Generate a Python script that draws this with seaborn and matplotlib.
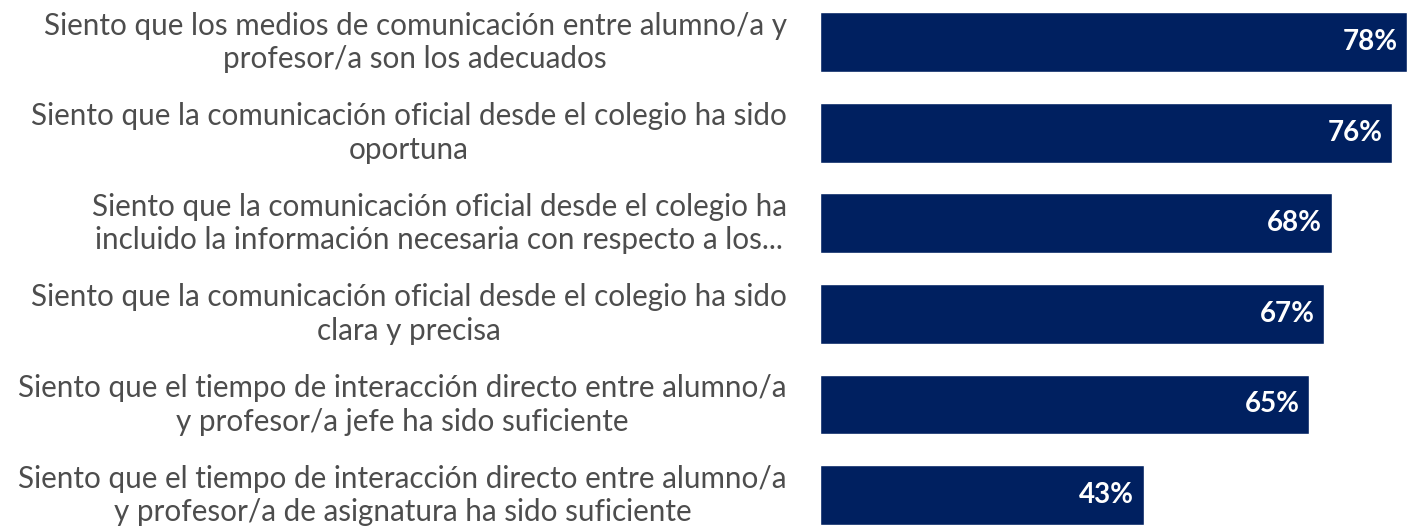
import numpy as np
import matplotlib.pyplot as plt
import matplotlib.transforms as mtransforms
import seaborn as sns
import pandas as pd

# Survey data
labels = [
    "Siento que los medios de comunicación entre alumno/a y\nprofesor/a son los adecuados",
    "Siento que la comunicación oficial desde el colegio ha sido\noportuna",
    "Siento que la comunicación oficial desde el colegio ha\nincluido la información necesaria con respecto a los...",
    "Siento que la comunicación oficial desde el colegio ha sido\nclara y precisa",
    "Siento que el tiempo de interacción directo entre alumno/a\ny profesor/a jefe ha sido suficiente",
    "Siento que el tiempo de interacción directo entre alumno/a\ny profesor/a de asignatura ha sido suficiente",
]
values = [78, 76, 68, 67, 65, 43]

df = pd.DataFrame({"label": labels, "value": values})

sns.set_style("white")
plt.rcParams['font.family'] = ['Lato', 'DejaVu Sans']

fig = plt.figure(figsize=(14.11, 5.27), dpi=100)
ax = fig.add_axes([820 / 1411, 0, 591 / 1411, 1])

sns.barplot(data=df, x="value", y="label", color="#002060", saturation=1,
            width=0.66, orient="h", ax=ax)

ax.set_xlim(0, 78.5)
ax.set_ylim(5.353, -0.4636)
ax.set_xlabel("")
ax.set_ylabel("")
ax.set_xticks([])
sns.despine(ax=ax, left=True, bottom=True)

ax.tick_params(axis="y", length=0, pad=24)
# nudge labels up a little so the bottom one fits
shift = mtransforms.ScaledTranslation(0, 5 / 100, fig.dpi_scale_trans)
for t in ax.get_yticklabels():
    t.set_fontsize(21.3)
    t.set_color("#4d4d4d")
    t.set_multialignment("center")
    t.set_linespacing(1.25)
    t.set_transform(t.get_transform() + shift)

# Value labels inside bar ends
for i, v in enumerate(values):
    ax.annotate(f"{v}%", xy=(v, i), xytext=(-7, 0), textcoords="offset points",
                ha="right", va="center", color="white", fontsize=20,
                fontweight="bold")

plt.savefig("out.png", dpi=100)
